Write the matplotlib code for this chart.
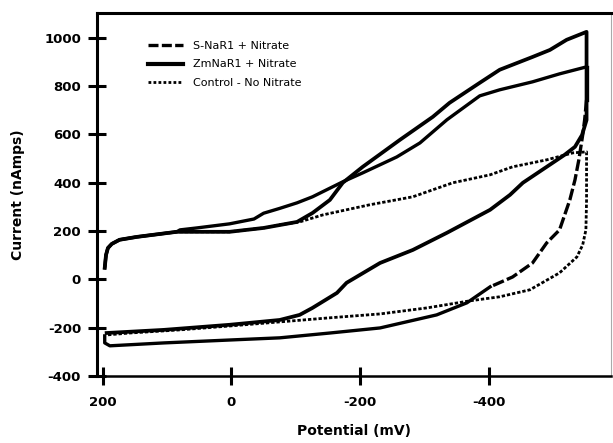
import matplotlib
matplotlib.use("Agg")
import matplotlib.pyplot as plt
from matplotlib.lines import Line2D

plt.rcParams['font.family'] = ['DejaVu Sans']

# ---- data (potential in mV, current in nA) ----
start_p = [197, 195, 192, 186, 174, 147, 85]
start_i = [48, 101, 130, 147, 164, 176, 197]

zm_fwd_p = start_p + [3, -50, -102, -126, -153, -173, -204, -262, -313, -339, -386, -417, -468, -495, -521, -552]
zm_fwd_i = start_i + [197, 213, 238, 275, 329, 400, 466, 578, 673, 731, 814, 868, 921, 950, 992, 1025]
zm_ret_p = [-552, -552, -552, -545, -534, -518, -490, -453, -433, -402, -335, -282, -231, -179, -164, -126, -106, -75, 3, 105, 194]
zm_ret_i = [1025, 826, 660, 598, 549, 516, 466, 400, 350, 288, 193, 122, 68, -14, -56, -118, -147, -168, -188, -209, -222]

s_fwd_p = start_p + [80, 54, 3, -35, -50, -75, -102, -126, -173, -204, -257, -293, -335, -386, -417, -468, -510, -552]
s_fwd_i = start_i + [205, 213, 230, 250, 274, 294, 317, 342, 404, 441, 507, 565, 661, 760, 785, 818, 851, 880]
s_ret_p = [-552, -552, -549, -546, -540, -534, -526, -518, -510, -490, -468, -437, -402, -366, -319, -231, -153, -75, 3, 105, 189, 197, 197]
s_ret_i = [880, 743, 660, 598, 495, 412, 329, 267, 205, 151, 68, 10, -31, -97, -147, -201, -222, -242, -251, -263, -275, -263, -234]

c_fwd_p = start_p + [3, -50, -75, -106, -142, -215, -282, -344, -402, -437, -490, -531, -552]
c_fwd_i = start_i + [197, 213, 226, 238, 267, 309, 342, 400, 433, 466, 495, 524, 528]
c_ret_p = [-552, -552, -551, -546, -537, -510, -464, -417, -370, -304, -231, -153, -75, 3, 80, 158, 194]
c_ret_i = [528, 329, 205, 143, 93, 27, -43, -72, -89, -118, -143, -159, -176, -193, -209, -222, -230]

series_labels = ["S-NaR1 + Nitrate", "ZmNaR1 + Nitrate", "Control - No Nitrate"]
x_ticks = [200, 0, -200, -400]
y_ticks = [-400, -200, 0, 200, 400, 600, 800, 1000]

fig = plt.figure(figsize=(6.13, 4.43), dpi=100)
ax = fig.add_axes([97/613, 1-376/443, (611-97)/613, (376-13)/443])

lw = 2.4
dot_style = (0, (1.2, 0.7))

# control (dotted)
ax.plot(c_fwd_p + c_ret_p, c_fwd_i + c_ret_i, color='black', lw=2.0, linestyle=dot_style)
# S-NaR1: solid-looking in flat parts, dashed in the steep return
ax.plot(s_fwd_p, s_fwd_i, color='black', lw=lw)
ax.plot(s_ret_p[:2], s_ret_i[:2], color='black', lw=lw)
ax.plot(s_ret_p[1:13], s_ret_i[1:13], color='black', lw=lw, linestyle=(0, (3.5, 1.0)))
ax.plot(s_ret_p[12:], s_ret_i[12:], color='black', lw=lw)
# ZmNaR1 (solid)
ax.plot(zm_fwd_p + zm_ret_p, zm_fwd_i + zm_ret_i, color='black', lw=lw + 0.3)

# legend
handles = [Line2D([], [], color='black', lw=2.4, linestyle=(0, (3, 1))),
           Line2D([], [], color='black', lw=3.0),
           Line2D([], [], color='black', lw=2.0, linestyle=(0, (1, 0.8)))]
leg = ax.legend(handles, series_labels, loc='upper left', bbox_to_anchor=(0.08, 0.95),
                frameon=False, fontsize=8, handlelength=3.1, handletextpad=0.9,
                labelspacing=0.75)

ax.set_xlim(209, -590)
ax.set_ylim(-400, 1103)
ax.set_xticks(x_ticks)
ax.set_xticklabels([str(v) for v in x_ticks])
ax.set_yticks(y_ticks)
ax.set_yticklabels([str(v) for v in y_ticks])

for lab in ax.get_xticklabels() + ax.get_yticklabels():
    lab.set_fontweight('bold')
    lab.set_fontsize(9.5)

ax.tick_params(axis='both', direction='inout', length=13, width=2.2, color='black')
ax.tick_params(axis='y', pad=5)
ax.tick_params(axis='x', pad=8)

ax.spines['left'].set_linewidth(2.2)
ax.spines['bottom'].set_linewidth(1.8)
ax.spines['top'].set_linewidth(2.2)
ax.spines['right'].set_linewidth(0.8)
ax.spines['right'].set_color('#aaaaaa')

ax.set_xlabel('Potential (mV)', fontsize=10, fontweight='bold', labelpad=11)
ax.set_ylabel('Current (nAmps)', fontsize=10, fontweight='bold', labelpad=14)

fig.savefig('out.png', dpi=100)
